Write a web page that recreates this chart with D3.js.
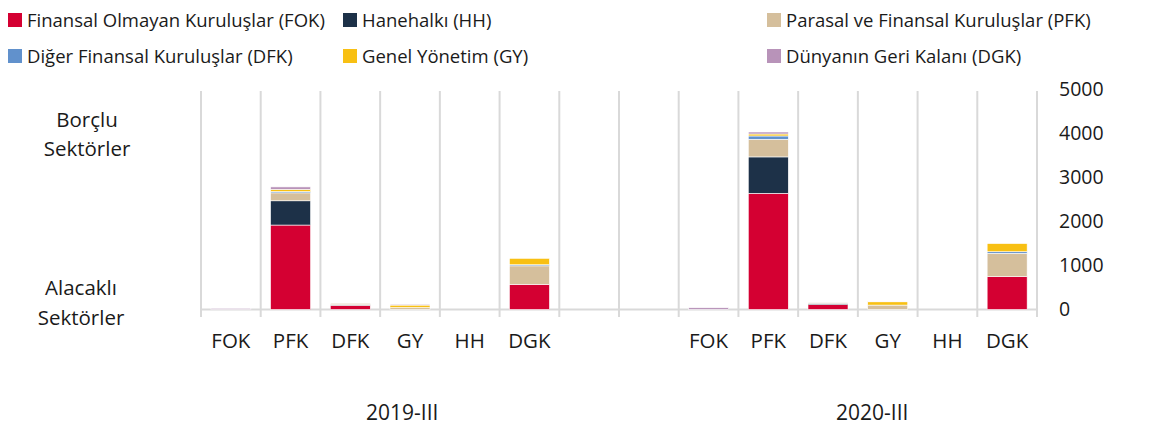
<!DOCTYPE html>
<html>
<head>
<meta charset="utf-8">
<script src="https://cdn.jsdelivr.net/npm/d3@7"></script>
<style>
  html, body { margin: 0; padding: 0; background: #fff; }
  svg { display: block; font-family: "Open Sans", "Noto Sans", sans-serif; }
</style>
</head>
<body>
<svg id="chart" width="1159" height="428"></svg>
<script>
// ---- data ----
const periods = ["2019-III", "2020-III"];
const categories = ["FOK", "PFK", "DFK", "GY", "HH", "DGK"];
const seriesKeys = ["FOK", "HH", "PFK", "DFK", "GY", "DGK"];
const seriesNames = [
  "Finansal Olmayan Kuruluşlar (FOK)",
  "Hanehalkı (HH)",
  "Parasal ve Finansal Kuruluşlar (PFK)",
  "Diğer Finansal Kuruluşlar (DFK)",
  "Genel Yönetim (GY)",
  "Dünyanın Geri Kalanı (DGK)"
];
const seriesColors = ["#d40032", "#1d3148", "#d5bf9c", "#6191cc", "#f8c013", "#b893b9"];
// values per series, per category (FOK, PFK, DFK, GY, HH, DGK)
const fok2019 = [0, 1915, 95, 0, 0, 570];
const hh2019  = [0, 550, 15, 0, 0, 0];
const pfk2019 = [0, 180, 30, 45, 0, 420];
const dfk2019 = [0, 30, 0, 0, 0, 25];
const gy2019  = [0, 50, 0, 55, 0, 145];
const dgk2019 = [25, 55, 0, 20, 0, 0];
const fok2020 = [0, 2635, 110, 0, 0, 745];
const hh2020  = [0, 825, 30, 0, 0, 0];
const pfk2020 = [0, 400, 15, 100, 0, 530];
const dfk2020 = [0, 75, 0, 0, 0, 35];
const gy2020  = [0, 45, 0, 75, 0, 185];
const dgk2020 = [40, 45, 0, 15, 0, 0];
const yTicks = [0, 1000, 2000, 3000, 4000, 5000];
const sideLabelsTop = ["Borçlu", "Sektörler"];
const sideLabelsBottom = ["Alacaklı", "Sektörler"];

// ---- build table ----
const byPeriod = {
  "2019-III": [fok2019, hh2019, pfk2019, dfk2019, gy2019, dgk2019],
  "2020-III": [fok2020, hh2020, pfk2020, dfk2020, gy2020, dgk2020]
};
// slot order: 2019 cats + blank, blank + 2020 cats
const slots = [];
categories.forEach(c => slots.push("2019-III|" + c));
slots.push("2019-III|_");
slots.push("2020-III|_");
categories.forEach(c => slots.push("2020-III|" + c));

const rows = [];
periods.forEach(p => {
  categories.forEach((c, ci) => {
    const r = { slot: p + "|" + c, period: p, cat: c };
    seriesKeys.forEach((k, si) => { r[k] = byPeriod[p][si][ci]; });
    rows.push(r);
  });
});

const svg = d3.select("#chart");
const left = 201, right = 1037, yBottom = 309.5, yTop = 89;

const x = d3.scaleBand().domain(slots).range([left, right]).paddingInner(0.33).paddingOuter(0.165);
const y = d3.scaleLinear().domain([0, 5000]).range([yBottom, yTop]);
const step = x.step();

// gridlines (vertical at slot boundaries)
const bounds = d3.range(slots.length + 1).map(i => left + i * step);
svg.append("g").selectAll("line").data(bounds).join("line")
  .attr("x1", d => d).attr("x2", d => d)
  .attr("y1", 91).attr("y2", 317)
  .attr("stroke", "#d9d9d9").attr("stroke-width", 2);
// horizontal axis line
svg.append("line")
  .attr("x1", left).attr("x2", right)
  .attr("y1", y(0)).attr("y2", y(0))
  .attr("stroke", "#d9d9d9").attr("stroke-width", 2);

// stacked bars
const stack = d3.stack().keys(seriesKeys)(rows);
svg.append("g").selectAll("g").data(stack).join("g")
  .attr("fill", (d, i) => seriesColors[i])
  .selectAll("rect").data(d => d.filter(v => v[1] - v[0] > 0)).join("rect")
  .attr("x", d => x(d.data.slot))
  .attr("width", x.bandwidth())
  .attr("y", d => y(d[1]))
  .attr("height", d => y(d[0]) - y(d[1]))
  .attr("stroke", "#ffffff").attr("stroke-width", 0.6);

// y axis on right
const yAxis = d3.axisRight(y).tickValues(yTicks).tickSize(0).tickPadding(3).tickFormat(d3.format("d"));
const ga = svg.append("g").attr("transform", `translate(1056,0)`).call(yAxis);
ga.select(".domain").remove();
ga.selectAll("text").attr("font-size", 19.5).attr("fill", "#1a1a1a")
  .attr("font-family", "'Open Sans', sans-serif");

// category labels
svg.append("g").selectAll("text").data(rows).join("text")
  .attr("x", d => x(d.slot) + x.bandwidth() / 2)
  .attr("y", 348)
  .attr("text-anchor", "middle")
  .attr("font-size", 20.5).attr("fill", "#1a1a1a")
  .text(d => d.cat);

// period labels
const periodPos = [3.37, 11.24];
svg.append("g").selectAll("text").data(periods).join("text")
  .attr("x", (d, i) => left + periodPos[i] * step)
  .attr("y", 420)
  .attr("text-anchor", "middle")
  .attr("font-size", 21).attr("fill", "#1a1a1a")
  .text(d => d);

// side labels
svg.append("g").selectAll("text").data(sideLabelsTop).join("text")
  .attr("x", 87).attr("y", (d, i) => 126.5 + i * 29.5)
  .attr("text-anchor", "middle").attr("font-size", 20.5).attr("fill", "#1a1a1a")
  .text(d => d);
svg.append("g").selectAll("text").data(sideLabelsBottom).join("text")
  .attr("x", 81).attr("y", (d, i) => 295 + i * 29.5)
  .attr("text-anchor", "middle").attr("font-size", 20.5).attr("fill", "#1a1a1a")
  .text(d => d);

// legend
const legCols = [8, 343, 767];
const legRows = [13, 49];
const leg = svg.append("g").selectAll("g").data(seriesNames).join("g")
  .attr("transform", (d, i) => `translate(${legCols[i % 3]},${legRows[Math.floor(i / 3)]})`);
leg.append("rect").attr("width", 14).attr("height", 14)
  .attr("fill", (d, i) => seriesColors[i]);
leg.append("text").attr("x", 19).attr("y", 13.5)
  .attr("font-size", 18.5).attr("fill", "#1a1a1a")
  .text(d => d);
</script>
</body>
</html>
